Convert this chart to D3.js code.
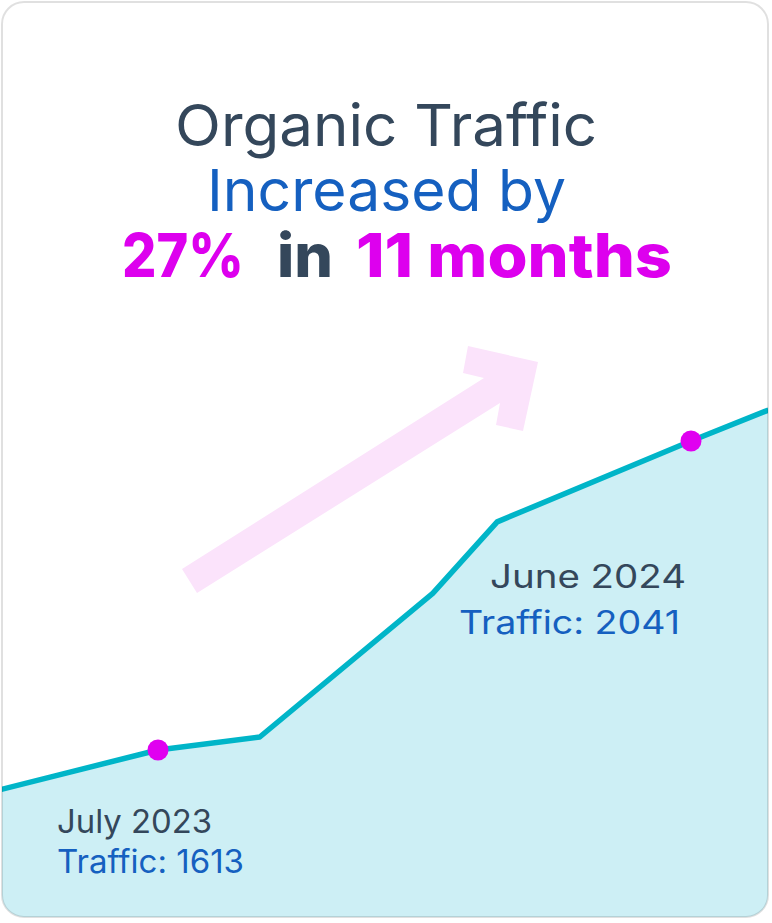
<!DOCTYPE html>
<html>
<head>
<meta charset="utf-8">
<script src="https://cdn.jsdelivr.net/npm/d3@7"></script>
<style>
  html, body { margin: 0; padding: 0; background: #ffffff; }
  svg { display: block; }
  text { font-family: "Inter", "Noto Sans", sans-serif; }
</style>
</head>
<body>
<div id="chart"></div>
<script>
// ---- data ----
// month offsets relative to July 2023 (0) and traffic values along the line
const monthOffsets = [-3.26, 0, 2.1, 5.67, 7.0, 11, 12.6];
const trafficValues = [1558, 1613, 1631, 1830, 1929, 2041, 2084];
const highlightIdx = [1, 5];
const highlightLabels = ["July 2023", "June 2024"];
const highlightTraffic = [1613, 2041];
const titleLine1 = "Organic Traffic";
const titleLine2 = "Increased by";
const titleLine3 = ["27%", "in", "11 months"];

const W = 772, H = 923;
const svg = d3.select("#chart").append("svg").attr("width", W).attr("height", H);

const card = {x: 2, y: 2, w: 766, h: 915, r: 22};

const defs = svg.append("defs");
defs.append("clipPath").attr("id", "cardClip")
  .append("rect").attr("x", card.x).attr("y", card.y)
  .attr("width", card.w).attr("height", card.h).attr("rx", card.r);

svg.append("rect").attr("x", card.x).attr("y", card.y)
  .attr("width", card.w).attr("height", card.h).attr("rx", card.r)
  .attr("fill", "#ffffff");

// scales
const x = d3.scaleLinear().domain([0, 11]).range([158, 691]);
const y = d3.scaleLinear().domain([1613, 2041]).range([750, 441]);

const pts = monthOffsets.map((m, i) => ({m, v: trafficValues[i]}));

const g = svg.append("g").attr("clip-path", "url(#cardClip)");

// decorative arrow
g.append("path")
  .attr("fill", "#fbe3fb")
  .attr("d", "M197,593 L182,569 L484,378 L463,373 L468,346 L538,362 L523,431 L496,425 L500,403 Z");

// area
g.append("path").datum(pts)
  .attr("fill", "#cdeff5")
  .attr("d", d3.area().x(d => x(d.m)).y0(H).y1(d => y(d.v)));

// line
g.append("path").datum(pts)
  .attr("fill", "none")
  .attr("stroke", "#00b5c8")
  .attr("stroke-width", 5.5)
  .attr("stroke-linejoin", "round")
  .attr("d", d3.line().x(d => x(d.m)).y(d => y(d.v)));

// dots
g.selectAll("circle.hl").data(highlightIdx).join("circle")
  .attr("class", "hl")
  .attr("cx", i => x(pts[i].m)).attr("cy", i => y(pts[i].v))
  .attr("r", 10.5).attr("fill", "#e000f0");

// card border on top
svg.append("rect").attr("x", card.x).attr("y", card.y)
  .attr("width", card.w).attr("height", card.h).attr("rx", card.r)
  .attr("fill", "none").attr("stroke", "rgba(0,0,0,0.12)").attr("stroke-width", 2);

// titles
const dark = "#34475b", blue = "#1560c0", mag = "#dd00ee";
svg.append("text").attr("x", 175).attr("y", 146)
  .attr("font-size", 58).attr("fill", dark).attr("font-weight", 400)
  .attr("textLength", 422).attr("lengthAdjust", "spacingAndGlyphs")
  .text(titleLine1);
svg.append("text").attr("x", 207).attr("y", 211)
  .attr("font-size", 58).attr("fill", blue).attr("font-weight", 400)
  .attr("textLength", 359).attr("lengthAdjust", "spacingAndGlyphs")
  .text(titleLine2);
const l3 = [
  {t: titleLine3[0], x: 122, w: 122, c: mag},
  {t: titleLine3[1], x: 277, w: 56, c: dark},
  {t: titleLine3[2], x: 356, w: 316, c: mag}
];
svg.selectAll("text.l3").data(l3).join("text")
  .attr("class", "l3")
  .attr("x", d => d.x).attr("y", 277)
  .attr("font-size", 60).attr("font-weight", 800).attr("fill", d => d.c)
  .attr("textLength", d => d.w).attr("lengthAdjust", "spacingAndGlyphs")
  .text(d => d.t);

// labels
const lab = [
  {a: highlightLabels[0], b: "Traffic: " + highlightTraffic[0], xa: 57, wa: 155, ya: 833, xb: 57, wb: 187, yb: 873},
  {a: highlightLabels[1], b: "Traffic: " + highlightTraffic[1], xa: 490, wa: 196, ya: 588, xb: 459, wb: 221, yb: 634}
];
lab.forEach(d => {
  svg.append("text").attr("x", d.xa).attr("y", d.ya)
    .attr("font-size", 32).attr("fill", dark)
    .attr("textLength", d.wa).attr("lengthAdjust", "spacingAndGlyphs")
    .text(d.a);
  svg.append("text").attr("x", d.xb).attr("y", d.yb)
    .attr("font-size", 32).attr("fill", blue)
    .attr("textLength", d.wb).attr("lengthAdjust", "spacingAndGlyphs")
    .text(d.b);
});
</script>
</body>
</html>
